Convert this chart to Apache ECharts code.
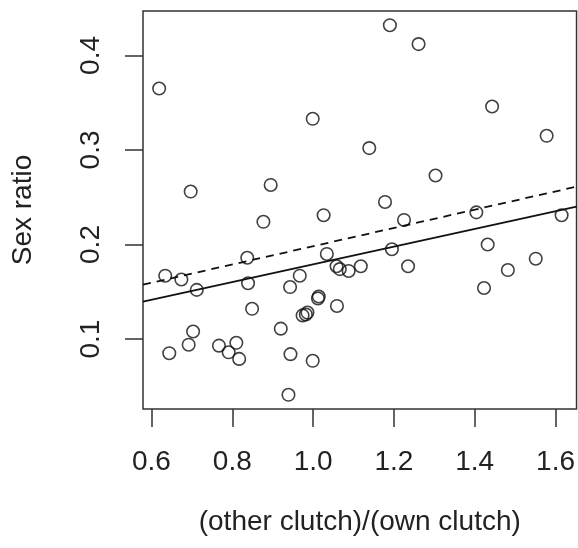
<!DOCTYPE html>
<html>
<head>
<meta charset="utf-8">
<script src="https://cdn.jsdelivr.net/npm/echarts@6/dist/echarts.min.js"></script>
<style>
html,body{margin:0;padding:0;background:#fff;}
#chart{width:578px;height:548px;}
</style>
</head>
<body>
<div id="chart"></div>
<script>
// Data
var ratioX = [1.190, 1.261, 0.619, 1.443, 0.999, 1.578, 1.139, 0.697, 0.895, 1.303,
  1.178, 0.877, 1.026, 1.225, 1.404, 1.615, 1.432, 1.195, 1.034, 0.837,
  0.634, 0.674, 0.712, 0.839, 0.967, 0.943, 1.058, 1.066, 1.088, 1.118,
  1.235, 1.482, 1.551, 1.423, 1.012, 1.014, 0.849, 1.059, 0.974, 0.986,
  0.982, 0.920, 0.703, 0.692, 0.644, 0.767, 0.810, 0.791, 0.817, 0.944,
  0.999, 0.939];
var sexRatio = [0.432, 0.412, 0.365, 0.346, 0.333, 0.315, 0.302, 0.256, 0.263, 0.273,
  0.245, 0.224, 0.231, 0.226, 0.234, 0.231, 0.200, 0.195, 0.190, 0.186,
  0.167, 0.163, 0.152, 0.159, 0.167, 0.155, 0.177, 0.174, 0.172, 0.177,
  0.177, 0.173, 0.185, 0.154, 0.143, 0.145, 0.132, 0.135, 0.125, 0.128,
  0.126, 0.111, 0.108, 0.094, 0.085, 0.093, 0.096, 0.086, 0.079, 0.084,
  0.077, 0.041];
var xRange = [0.579, 1.652];
var yRange = [0.026, 0.447];
var solidFitY = [0.1395, 0.240];
var dashedFitY = [0.1575, 0.2612];
var xTicks = [0.6, 0.8, 1.0, 1.2, 1.4, 1.6];
var yTicks = [0.1, 0.2, 0.3, 0.4];
var xTitle = '(other clutch)/(own clutch)';
var yTitle = 'Sex ratio';

var points = ratioX.map(function (x, i) { return [x, sexRatio[i]]; });
var solidLine = xRange.map(function (x, i) { return [x, solidFitY[i]]; });
var dashedLine = xRange.map(function (x, i) { return [x, dashedFitY[i]]; });

var FONT = 'Liberation Sans, Arial, Helvetica, sans-serif';
var INK = '#222';
var chart = echarts.init(document.getElementById('chart'), null, {renderer: 'canvas'});
chart.setOption({
  animation: false,
  backgroundColor: '#fff',
  grid: {left: 143, right: 1, top: 11, bottom: 139, show: true, borderColor: '#333', borderWidth: 1.5, backgroundColor: 'transparent'},
  xAxis: {
    type: 'value', min: xRange[0], max: xRange[1],
    name: xTitle, nameLocation: 'middle', nameGap: 99,
    nameTextStyle: {fontFamily: FONT, fontSize: 28, color: INK},
    axisLine: {show: false},
    splitLine: {show: false},
    axisTick: {show: true, length: 18, lineStyle: {color: '#333', width: 1.5}, customValues: xTicks},
    axisLabel: {customValues: xTicks, margin: 39, fontFamily: FONT, fontSize: 28, color: INK,
      formatter: function (v) { return v.toFixed(1); }}
  },
  yAxis: {
    type: 'value', min: yRange[0], max: yRange[1],
    name: yTitle, nameLocation: 'middle', nameGap: 106, nameRotate: 90,
    nameTextStyle: {fontFamily: FONT, fontSize: 28, color: INK},
    axisLine: {show: false},
    splitLine: {show: false},
    axisTick: {show: true, length: 18, lineStyle: {color: '#333', width: 1.5}, customValues: yTicks},
    axisLabel: {customValues: yTicks, rotate: 90, margin: 38, fontFamily: FONT, fontSize: 28, color: INK,
      formatter: function (v) { return v.toFixed(1); }}
  },
  series: [
    {type: 'scatter', data: points, symbol: 'circle', symbolSize: 12.5,
      itemStyle: {color: 'rgba(0,0,0,0)', borderColor: '#111', borderWidth: 1.6}, z: 3},
    {type: 'line', data: solidLine, symbol: 'none', clip: true,
      lineStyle: {color: '#111', width: 1.8, type: 'solid'}, z: 2},
    {type: 'line', data: dashedLine, symbol: 'none', clip: true,
      lineStyle: {color: '#111', width: 1.8, type: [8, 6]}, z: 2}
  ]
});
</script>
</body>
</html>
